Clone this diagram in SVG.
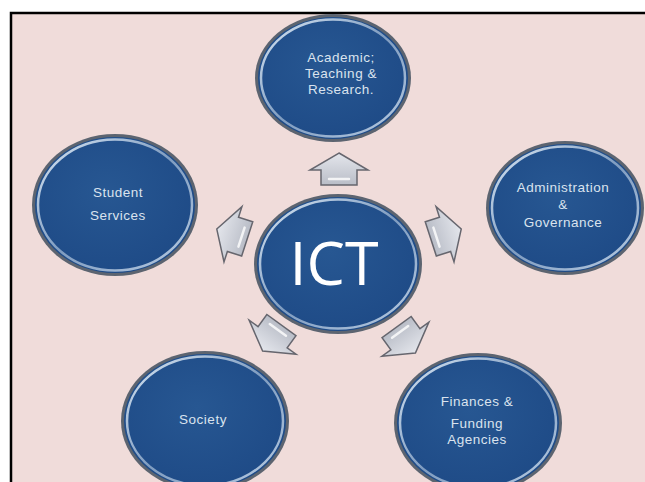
<svg xmlns="http://www.w3.org/2000/svg" width="645" height="482" viewBox="0 0 645 482">
  <defs>
    <radialGradient id="discFill" cx="0.45" cy="0.4" r="0.65">
      <stop offset="0" stop-color="#275792"/>
      <stop offset="1" stop-color="#1e4a86"/>
    </radialGradient>
    <linearGradient id="rimLight" x1="0" y1="0" x2="1" y2="1">
      <stop offset="0" stop-color="#d8e6f3"/>
      <stop offset="0.5" stop-color="#7f9cc0"/>
      <stop offset="1" stop-color="#b9cce2"/>
    </linearGradient>
    <linearGradient id="arrowFill" x1="0" y1="0" x2="0" y2="1">
      <stop offset="0" stop-color="#e4e6ec"/>
      <stop offset="1" stop-color="#b9bdc7"/>
    </linearGradient>
    <path id="blockArrow" d="M0,-16 L29,1 L18,1 L18,16 L-18,16 L-18,1 L-29,1 Z"/>
  </defs>
  <style>
    .edge { fill: #5c6470; }
    .disc { fill: url(#discFill); }
    .rim { fill: none; stroke: url(#rimLight); stroke-width: 2.5; }
    .lbl { font-family: "Liberation Sans", Arial, sans-serif; font-size: 13.5px; letter-spacing: 0.5px; fill: #dae3ee; text-anchor: middle; }
    .big { font-family: "Open Sans", "Liberation Sans", sans-serif; font-size: 61px; fill: #ffffff; text-anchor: middle; }
    .arrow { fill: url(#arrowFill); stroke: #66666e; stroke-width: 1.5; stroke-linejoin: miter; }
    .shine { fill: none; stroke: #ffffff; stroke-width: 2.5; stroke-linecap: round; opacity: 0.8; }
  </style>

  <!-- page -->
  <rect x="0" y="0" width="645" height="482" fill="#ffffff"/>
  <rect x="11" y="13" width="634" height="469" fill="#f0dcda"/>
  <path d="M11,482 L11,13 L645,13" fill="none" stroke="#000000" stroke-width="2.5"/>

  <!-- connectors: block arrows radiating from the hub -->
  <g id="connectors">
    <g transform="translate(339,169)">
      <use href="#blockArrow" class="arrow"/>
      <path d="M-10,10 L10,10" class="shine"/>
    </g>
    <g transform="translate(446,234) rotate(72)">
      <use href="#blockArrow" class="arrow"/>
      <path d="M-10,10 L10,10" class="shine"/>
    </g>
    <g transform="translate(406,340) rotate(144)">
      <use href="#blockArrow" class="arrow"/>
      <path d="M-10,10 L10,10" class="shine"/>
    </g>
    <g transform="translate(272,338) rotate(216)">
      <use href="#blockArrow" class="arrow"/>
      <path d="M-10,10 L10,10" class="shine"/>
    </g>
    <g transform="translate(232,234) rotate(288)">
      <use href="#blockArrow" class="arrow"/>
      <path d="M-10,10 L10,10" class="shine"/>
    </g>
  </g>

  <!-- hub -->
  <g id="node-ict">
    <ellipse cx="338" cy="264" rx="84" ry="70" class="edge"/>
    <ellipse cx="338" cy="264" rx="81" ry="67" class="disc"/>
    <ellipse cx="338" cy="264" rx="78" ry="64.5" class="rim"/>
    <text x="334" y="285" class="big">ICT</text>
  </g>

  <g id="node-academic">
    <ellipse cx="333" cy="78" rx="78" ry="64" class="edge"/>
    <ellipse cx="333" cy="78" rx="75" ry="61" class="disc"/>
    <ellipse cx="333" cy="78" rx="72" ry="58.5" class="rim"/>
    <text class="lbl"><tspan x="341" y="62">Academic;</tspan><tspan x="341" y="78">Teaching &amp;</tspan><tspan x="341" y="94">Research.</tspan></text>
  </g>

  <g id="node-admin">
    <ellipse cx="565" cy="208" rx="79" ry="67" class="edge"/>
    <ellipse cx="565" cy="208" rx="76" ry="64" class="disc"/>
    <ellipse cx="565" cy="208" rx="73" ry="61.5" class="rim"/>
    <text class="lbl"><tspan x="563" y="192">Administration</tspan><tspan x="563" y="209">&amp;</tspan><tspan x="563" y="227">Governance</tspan></text>
  </g>

  <g id="node-finances">
    <ellipse cx="478" cy="423" rx="84" ry="70" class="edge"/>
    <ellipse cx="478" cy="423" rx="81" ry="67" class="disc"/>
    <ellipse cx="478" cy="423" rx="78" ry="64.5" class="rim"/>
    <text class="lbl"><tspan x="477" y="406">Finances &amp;</tspan><tspan x="477" y="428">Funding</tspan><tspan x="477" y="444">Agencies</tspan></text>
  </g>

  <g id="node-society">
    <ellipse cx="205" cy="421" rx="84" ry="70" class="edge"/>
    <ellipse cx="205" cy="421" rx="81" ry="67" class="disc"/>
    <ellipse cx="205" cy="421" rx="78" ry="64.5" class="rim"/>
    <text x="203" y="424" class="lbl">Society</text>
  </g>

  <g id="node-student">
    <ellipse cx="115" cy="205" rx="83" ry="71" class="edge"/>
    <ellipse cx="115" cy="205" rx="80" ry="68" class="disc"/>
    <ellipse cx="115" cy="205" rx="77" ry="65.5" class="rim"/>
    <text class="lbl"><tspan x="118" y="197">Student</tspan><tspan x="118" y="220">Services</tspan></text>
  </g>
</svg>
